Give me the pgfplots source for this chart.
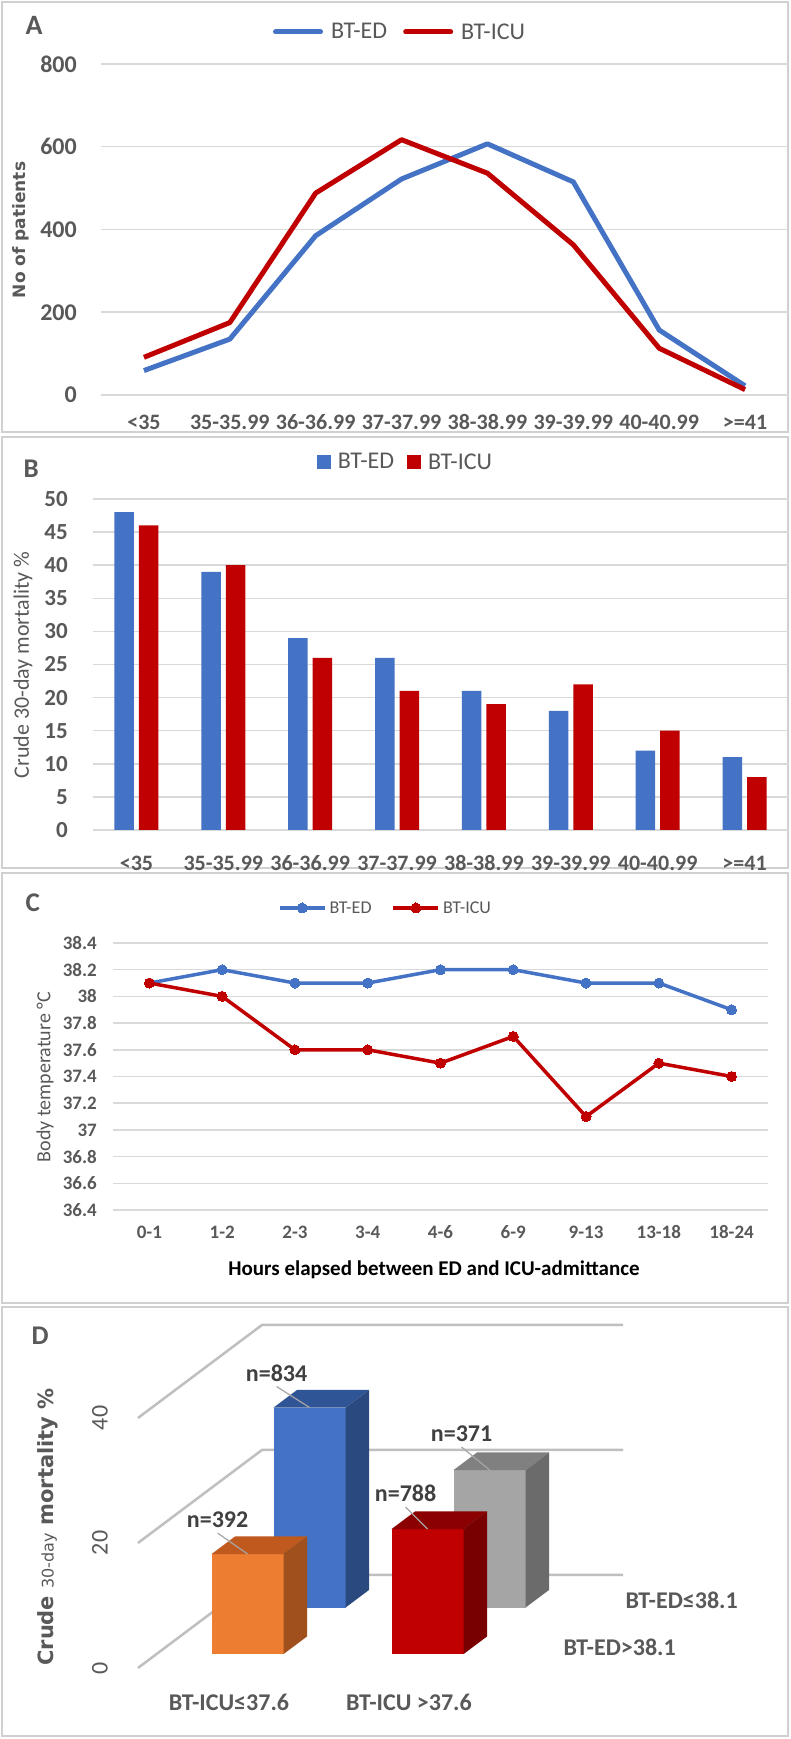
\documentclass[border=0pt]{standalone}
\usepackage{fontspec}
\setmainfont{Carlito}
\newfontfamily\dejavu{DejaVu Sans}
\usepackage{pgfplots}
\pgfplotsset{compat=1.18}

\definecolor{edblue}{HTML}{4472C4}
\definecolor{icured}{HTML}{C00000}
\definecolor{txt}{HTML}{595959}
\definecolor{dtxt}{HTML}{404040}
\definecolor{gridc}{HTML}{D9D9D9}
\definecolor{wallc}{HTML}{BFBFBF}
\definecolor{borderc}{HTML}{D0D0D0}
\definecolor{orangef}{HTML}{ED7D31}
\definecolor{oranget}{HTML}{C0591E}
\definecolor{oranges}{HTML}{A0501C}
\definecolor{bluet}{HTML}{2F5597}
\definecolor{blues}{HTML}{2A4A7F}
\definecolor{redt}{HTML}{8B0000}
\definecolor{reds}{HTML}{780000}
\definecolor{grayf}{HTML}{A5A5A5}
\definecolor{grayt}{HTML}{808080}
\definecolor{grays}{HTML}{6B6B6B}

\newcommand{\fs}[1]{\fontsize{#1bp}{#1bp}\selectfont}

\pgfplotsset{
  panel/.style={
    scale only axis, anchor=south west, clip=false,
    axis line style={draw=none}, tick style={draw=none},
    ymajorgrids, major grid style={gridc, line width=1.5bp},
    tick label style={text=txt, inner sep=0pt},
    /pgf/number format/assume math mode=true,
    legend style={draw=none, fill=none, inner sep=0pt, outer sep=0pt,
      anchor=west, legend columns=-1, text=txt, nodes={inner sep=0pt}},
  },
}

% one 3D bar: x0, x1, depth0, depth1, height, front, top, side
\newcommand{\dbar}[8]{%
  \addplot3[fill=#6, draw=none] coordinates {(#1,#3,0) (#2,#3,0) (#2,#3,#5) (#1,#3,#5)};
  \addplot3[fill=#7, draw=none] coordinates {(#1,#3,#5) (#2,#3,#5) (#2,#4,#5) (#1,#4,#5)};
  \addplot3[fill=#8, draw=none] coordinates {(#2,#3,0) (#2,#4,0) (#2,#4,#5) (#2,#3,#5)};
}

\begin{document}
\begin{tikzpicture}
\useasboundingbox (0,0) rectangle (791bp,1739bp);
\fill[white] (0,0) rectangle (791bp,1739bp);

% panel frames
\draw[borderc, line width=2bp] (2bp,1307bp) rectangle (788bp,1737bp);
\draw[borderc, line width=2bp] (2bp,871bp) rectangle (788bp,1302bp);
\draw[borderc, line width=2bp] (2bp,436bp) rectangle (788bp,866bp);
\draw[borderc, line width=2bp] (2bp,3bp) rectangle (788bp,432bp);

% ---------------- A ----------------
\begin{axis}[panel, at={(101bp,1344bp)}, width=687bp, height=331bp,
  xmin=-0.5, xmax=7.5, ymin=0, ymax=800, ytick={0,200,400,600,800},
  xtick={0,1,2,3,4,5,6,7},
  xticklabels={<35,35-35.99,36-36.99,37-37.99,38-38.99,39-39.99,40-40.99,>=41},
  yticklabel style={anchor=east, xshift=-24bp, font=\fs{24}\bfseries},
  xticklabel style={anchor=base, yshift=-35bp, font=\fs{22}\bfseries},
  legend style={at={(0.2504,1.0967)}, font=\fs{24},
    /tikz/every odd column/.append style={column sep=8bp},
    /tikz/every even column/.append style={column sep=16bp}},
  legend image code/.code={\draw[#1, line cap=round] (2.5bp,0bp) -- (47.5bp,0bp);},
]
\addplot[edblue, line width=5bp, line join=round] coordinates
  {(0,59) (1,135) (2,385) (3,522) (4,607) (5,515) (6,157) (7,22)};
\addlegendentry{BT-ED}
\addplot[icured, line width=5bp, line join=round] coordinates
  {(0,91) (1,175) (2,488) (3,617) (4,536) (5,363) (6,113) (7,13)};
\addlegendentry{BT-ICU}
\end{axis}
\node[anchor=base west, font=\fs{28}\bfseries, text=txt] at (22bp,1704bp) {A};
\node[rotate=90, font=\dejavu\bfseries\fs{17}, text=txt] at (21bp,1509bp) {No of patients};

% ---------------- B ----------------
\begin{axis}[panel, at={(93bp,909bp)}, width=695bp, height=331bp,
  ybar=5bp, bar width=19.5bp,
  xmin=-0.5, xmax=7.5, ymin=0, ymax=50, ytick={0,5,10,15,20,25,30,35,40,45,50},
  xtick={0,1,2,3,4,5,6,7},
  xticklabels={<35,35-35.99,36-36.99,37-37.99,38-38.99,39-39.99,40-40.99,>=41},
  yticklabel style={anchor=east, xshift=-25bp, font=\fs{23}\bfseries},
  xticklabel style={anchor=base, yshift=-36bp, font=\fs{22}\bfseries},
  legend style={at={(0.3223,1.1118)}, font=\fs{24},
    /tikz/every odd column/.append style={column sep=7bp},
    /tikz/every even column/.append style={column sep=13bp}},
  legend image code/.code={\fill[#1] (0bp,-7bp) rectangle (14bp,7bp);},
]
\addplot[fill=edblue, draw=none] coordinates
  {(0,48) (1,39) (2,29) (3,26) (4,21) (5,18) (6,12) (7,11)};
\addlegendentry{BT-ED}
\addplot[fill=icured, draw=none] coordinates
  {(0,46) (1,40) (2,26) (3,21) (4,19) (5,22) (6,15) (7,8)};
\addlegendentry{BT-ICU}
\end{axis}
\node[anchor=base west, font=\fs{27}\bfseries, text=txt] at (20bp,1261bp) {B};
\node[rotate=90, font=\fs{22}, text=txt] at (23bp,1074bp) {Crude 30-day mortality \%};

% ---------------- C ----------------
\begin{axis}[panel, at={(113bp,529bp)}, width=655bp, height=267bp,
  xmin=-0.5, xmax=8.5, ymin=36.4, ymax=38.4,
  ytick={36.4,36.6,36.8,37,37.2,37.4,37.6,37.8,38,38.2,38.4},
  yticklabels={36.4,36.6,36.8,37,37.2,37.4,37.6,37.8,38,38.2,38.4},
  xtick={0,1,2,3,4,5,6,7,8},
  xticklabels={0-1,1-2,2-3,3-4,4-6,6-9,9-13,13-18,18-24},
  yticklabel style={anchor=east, xshift=-16bp, font=\fs{19}\bfseries},
  xticklabel style={anchor=base, yshift=-29bp, font=\fs{19}\bfseries},
  legend style={at={(0.2519,1.1311)}, font=\fs{18},
    /tikz/every odd column/.append style={column sep=3bp},
    /tikz/every even column/.append style={column sep=20bp}},
  legend image code/.code={\draw[mark repeat=2, mark phase=2, #1]
    plot coordinates {(0bp,0bp) (22.5bp,0bp) (45bp,0bp)};},
]
\addplot[edblue, line width=3.5bp, line join=round, mark=*, mark size=5bp,
  mark options={solid, line width=0bp}] coordinates
  {(0,38.1) (1,38.2) (2,38.1) (3,38.1) (4,38.2) (5,38.2) (6,38.1) (7,38.1) (8,37.9)};
\addlegendentry{BT-ED}
\addplot[icured, line width=3.5bp, line join=round, mark=*, mark size=5bp,
  mark options={solid, line width=0bp}] coordinates
  {(0,38.1) (1,38.0) (2,37.6) (3,37.6) (4,37.5) (5,37.7) (6,37.1) (7,37.5) (8,37.4)};
\addlegendentry{BT-ICU}
\end{axis}
\node[anchor=base west, font=\fs{27}\bfseries, text=txt] at (22bp,827bp) {C};
\node[rotate=90, font=\fs{20}, text=txt] at (45bp,662bp) {Body temperature °C};
\node[font=\fs{21}\bfseries, text=black] at (434bp,469bp) {Hours elapsed between ED and ICU-admittance};

% ---------------- D ----------------
\begin{axis}[at={(138bp,71bp)}, anchor=origin, hide axis, clip=false,
  x={(1bp,0bp)}, y={(124bp,93bp)}, z={(0bp,6.25bp)},
  xmin=0, xmax=361, ymin=0, ymax=1, zmin=0, zmax=45,
]
\addplot3[wallc, line width=2.5bp] coordinates {(0,0,0) (0,1,0) (361,1,0)};
\addplot3[wallc, line width=2.5bp] coordinates {(0,0,20) (0,1,20) (361,1,20)};
\addplot3[wallc, line width=2.5bp] coordinates {(0,0,40) (0,1,40) (361,1,40)};
% back row: BT-ED<=38.1
\dbar{55}{127}{0.65}{0.84}{32}{edblue}{bluet}{blues}
\dbar{235}{307}{0.65}{0.84}{22}{grayf}{grayt}{grays}
% front row: BT-ED>38.1
\dbar{55}{127}{0.15}{0.34}{16}{orangef}{oranget}{oranges}
\dbar{235}{307}{0.15}{0.34}{20}{icured}{redt}{reds}
% leaders and counts
\draw[gray!70, line width=1.2bp] (axis cs:91,0.65,32) -- ++(-33bp,21bp)
  node[above=1bp, font=\fs{24}\bfseries, text=dtxt] {n=834};
\draw[gray!70, line width=1.2bp] (axis cs:271,0.65,22) -- ++(-28bp,23bp)
  node[above=1bp, font=\fs{24}\bfseries, text=dtxt] {n=371};
\draw[gray!70, line width=1.2bp] (axis cs:91,0.15,16) -- ++(-30bp,21bp)
  node[above=1bp, font=\fs{24}\bfseries, text=dtxt] {n=392};
\draw[gray!70, line width=1.2bp] (axis cs:271,0.15,20) -- ++(-22bp,22bp)
  node[above=1bp, font=\fs{24}\bfseries, text=dtxt] {n=788};
\node[rotate=90, font=\fs{24}, text=txt] at ([xshift=-38bp]axis cs:0,0,0) {0};
\node[rotate=90, font=\fs{24}, text=txt] at ([xshift=-38bp]axis cs:0,0,20) {20};
\node[rotate=90, font=\fs{24}, text=txt] at ([xshift=-38bp]axis cs:0,0,40) {40};
\end{axis}
\node[anchor=base west, font=\fs{27}\bfseries, text=txt] at (28bp,394bp) {D};
\node[rotate=90, text=txt, font=\dejavu\fs{21}] at (48bp,212bp)
  {{\bfseries Crude }{\fs{16}30-day}{\bfseries\ mortality \%}};
\node[anchor=west, font=\fs{24}\bfseries, text=txt] at (622bp,139bp) {BT-ED≤38.1};
\node[anchor=west, font=\fs{24}\bfseries, text=txt] at (560bp,92bp) {BT-ED>38.1};
\node[font=\fs{24}\bfseries, text=txt] at (229bp,37bp) {BT-ICU≤37.6};
\node[font=\fs{24}\bfseries, text=txt] at (409bp,37bp) {BT-ICU >37.6};
\end{tikzpicture}
\end{document}
